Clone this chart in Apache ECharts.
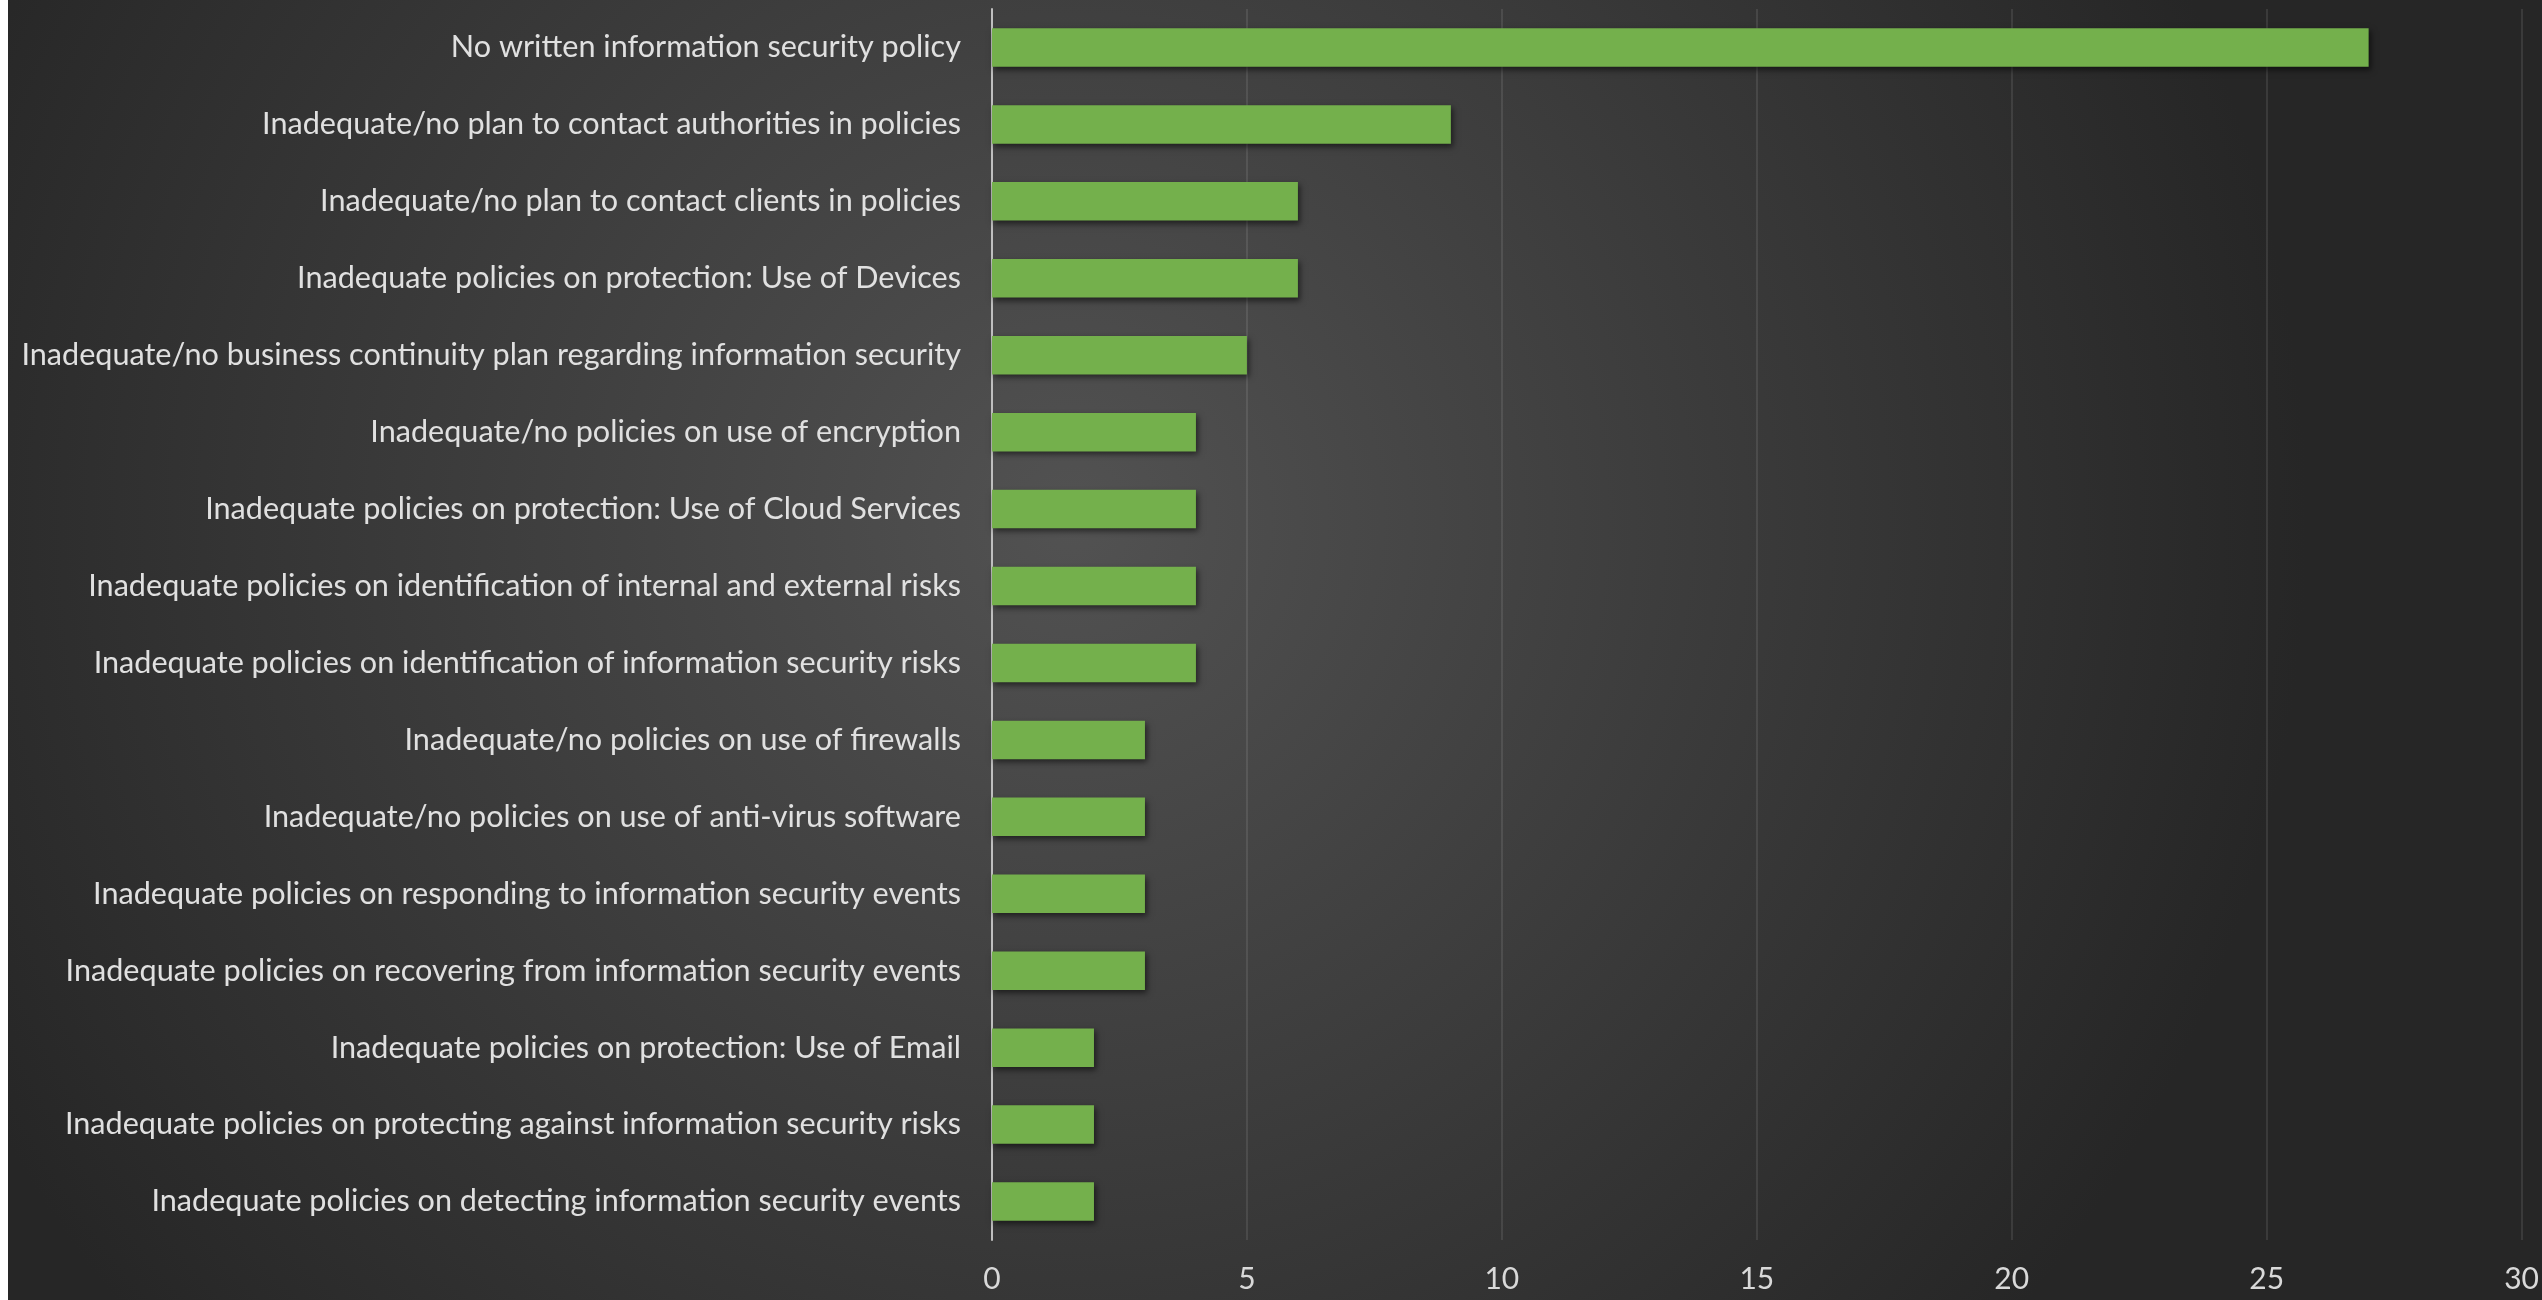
<!DOCTYPE html>
<html>
<head>
<meta charset="utf-8">
<script src="https://cdn.jsdelivr.net/npm/echarts@6/dist/echarts.min.js"></script>
<style>
  html, body { margin: 0; padding: 0; background: #ffffff; }
  #main { position: absolute; left: 8px; top: 0; width: 2534px; height: 1300px; }
</style>
</head>
<body>
<div id="main"></div>
<script>
// categories top to bottom, as in the picture
var categories = [
    'No written information security policy',
    'Inadequate/no plan to contact authorities in policies',
    'Inadequate/no plan to contact clients in policies',
    'Inadequate policies on protection: Use of Devices',
    'Inadequate/no business continuity plan regarding information security',
    'Inadequate/no policies on use of encryption',
    'Inadequate policies on protection: Use of Cloud Services',
    'Inadequate policies on identification of internal and external risks',
    'Inadequate policies on identification of information security risks',
    'Inadequate/no policies on use of firewalls',
    'Inadequate/no policies on use of anti-virus software',
    'Inadequate policies on responding to information security events',
    'Inadequate policies on recovering from information security events',
    'Inadequate policies on protection: Use of Email',
    'Inadequate policies on protecting against information security risks',
    'Inadequate policies on detecting information security events'
];
var counts = [27, 9, 6, 6, 5, 4, 4, 4, 4, 3, 3, 3, 3, 2, 2, 2];
var xTicks = [0, 5, 10, 15, 20, 25, 30];

var labelFont = 'Lato, "Open Sans", sans-serif';

var myChart = echarts.init(document.getElementById('main'));
var option = {
    backgroundColor: {
        type: 'radial', x: 0.42, y: 0.4, r: 0.95,
        colorStops: [
            {offset: 0, color: '#525252'},
            {offset: 1, color: '#262626'}
        ]
    },
    grid: {left: 984, right: 16, top: 9, bottom: 60, containLabel: false},
    xAxis: {
        type: 'value',
        min: xTicks[0],
        max: xTicks[xTicks.length - 1],
        interval: 5,
        axisLine: {show: false},
        axisTick: {show: false},
        splitLine: {lineStyle: {color: 'rgba(255,255,255,0.13)', width: 1.5}},
        axisLabel: {color: '#d9d9d9', fontSize: 30, fontFamily: labelFont, margin: 24}
    },
    yAxis: {
        type: 'category',
        inverse: true,
        data: categories,
        axisTick: {show: false},
        axisLine: {lineStyle: {color: '#bfbfbf', width: 2}},
        axisLabel: {color: '#e0e0e0', fontSize: 30.6, fontFamily: labelFont, margin: 31}
    },
    series: [{
        type: 'bar',
        data: counts,
        barWidth: '50%',
        itemStyle: {
            color: '#74b04c',
            shadowColor: 'rgba(0,0,0,0.55)',
            shadowBlur: 6,
            shadowOffsetX: 2,
            shadowOffsetY: 3
        },
        animation: false
    }],
    animation: false
};
myChart.setOption(option);
</script>
</body>
</html>
